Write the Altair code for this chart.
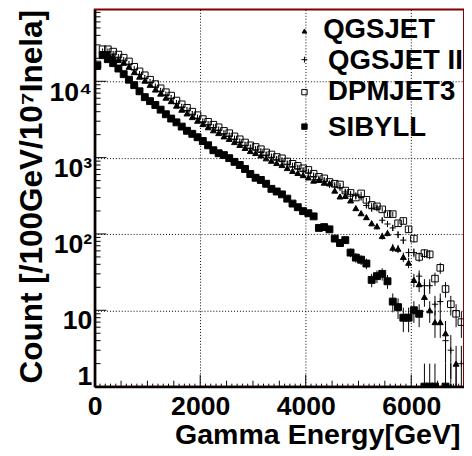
import altair as alt
import pandas as pd

# bin centres [GeV], 100 GeV bins
energy = [50 + 100 * i for i in range(70)]

names = ["QGSJET", "QGSJET II", "DPMJET3", "SIBYLL"]

qgsjet = [15500, 22500, 23000, 21000, 19000, 17500, 15500, 13200, 11500, 10200,
          9000, 7800, 6900, 6100, 5500, 4800, 4250, 3800, 3400, 3050,
          2750, 2500, 2280, 2100, 1900, 1760, 1600, 1470, 1340, 1220,
          1150, 1070, 980, 910, 850, 800, 730, 670, 630, 590,
          550, 500, 510, 470, 460, 370, 310, 315, 275, 218,
          187, 166, 138, 126, 94, 103, 66, 64, 50, 42,
          25, 22, 15, 10, 7, 7, 5, 1, 2, None]

qgsjet2 = [16000, 24500, 24500, 22800, 20700, 18900, 16800, 14300, 12400, 11000,
           9700, 8450, 7450, 6650, 6000, 5150, 4600, 4150, 3700, 3300,
           2950, 2700, 2480, 2300, 2060, 1920, 1750, 1600, 1450, 1330,
           1270, 1190, 1080, 1010, 940, 900, 820, 760, 715, 665,
           630, 565, 515, 490, 440, 415, 400, 355, 330, 320,
           300, 236, 214, 218, 151, 135, 120, 98, 83, 57,
           57, 28, 21, 21, 12, 13, 4, 3, 1, 2]

dpmjet3 = [16600, 26300, 26300, 24500, 22400, 20400, 18200, 15500, 13500, 12000,
           10500, 9200, 8100, 7200, 6500, 5600, 5000, 4500, 4000, 3600,
           3200, 2950, 2700, 2500, 2240, 2090, 1900, 1740, 1580, 1450,
           1380, 1290, 1170, 1100, 1020, 980, 890, 830, 780, 725,
           690, 615, 560, 535, 480, 455, 445, 370, 345, 300,
           340, 280, 240, 230, 210, 182, 182, 138, 148, 115,
           87, 50, 56, 54, 26, 36, 19, 12, 9, 7]

sibyll = [16000, 22000, 19500, 17300, 14700, 12400, 10500, 8900, 7400, 6200,
          5500, 4900, 4250, 3700, 3250, 2900, 2550, 2250, 2050, 1850,
          1650, 1450, 1250, 1140, 1080, 985, 880, 800, 710, 610,
          545, 510, 455, 390, 360, 330, 290, 250, 224, 199,
          187, 170, 120, 123, 115, 87, 76, 83, 57, 49,
          46, 41, 25, 28, 30, 24, 13, 11, 8, 8,
          10, 9, 1, 1, 1, None, 1, None, None, None]

x_ticks = [0, 2000, 4000, 6000]
y_ticks = [1, 10, 100, 1000, 10000]

rows = []
for name, vals in zip(names, [qgsjet, qgsjet2, dpmjet3, sibyll]):
    for e, v in zip(energy, vals):
        if v is None:
            continue
        err = v ** 0.5
        rows.append(dict(series=name, E=e, N=v, lo=max(v - err, 0.3), hi=v + err))
df = pd.DataFrame(rows)

W, H = 375, 383
FONT = "Liberation Sans"
xs = alt.Scale(domain=[0, 7000], nice=False, zero=False)
ys = alt.Scale(type="log", domain=[1, 87500], nice=False)

x_axis = alt.Axis(
    values=x_ticks, title="Gamma Energy[GeV]", format="d",
    grid=True, gridColor="black", gridDash=[1, 2], gridOpacity=1, gridWidth=1,
    ticks=False, labelPadding=7,
    labelFont=FONT, labelFontSize=27, labelFontWeight="bold", labelColor="black",
    labelFlush=False, labelOverlap=False,
    domainColor="black", domainWidth=2.5,
    titleFont=FONT, titleFontSize=29, titleFontWeight="bold", titleColor="black",
    titleAlign="right", titleBaseline="alphabetic",
    titleX=371, titleY=58)

y_axis = alt.Axis(
    values=y_ticks, title="Count [/100GeV/10\u2077Inela]",
    labelExpr="datum.value == 1 ? '1' : datum.value == 10 ? '10' : datum.value == 100 ? '10\u00b2' : datum.value == 1000 ? '10\u00b3' : '10\u2074'",
    labelBaseline={"condition": {"test": "datum.value == 1", "value": "alphabetic"}, "value": "top"},
    labelOffset=-2,
    grid=True, gridColor="black", gridDash=[1, 2], gridOpacity=1, gridWidth=1,
    ticks=False, labelPadding=3,
    labelFont=FONT, labelFontSize=27, labelFontWeight="bold", labelColor="black",
    labelFlush=False, labelOverlap=False,
    domainColor="black", domainWidth=2.5,
    titleFont=FONT, titleFontSize=32, titleFontWeight="bold", titleColor="black",
    titleAngle=270, titleAlign="right", titleBaseline="alphabetic",
    titleX=-54, titleY=0)

plus_path = "M-1,0L1,0M0,-1L0,1"
shape_range = ["triangle-up", plus_path, "square", "square"]
fill_range = ["black", "transparent", "transparent", "black"]
size_range = [36, 49, 42, 30]

errbars = alt.Chart(df).mark_rule(clip=True, color="black", strokeWidth=1).encode(
    x=alt.X("E:Q", scale=xs, axis=x_axis),
    y=alt.Y("lo:Q", scale=ys, axis=y_axis),
    y2="hi:Q",
)

points = alt.Chart(df).mark_point(filled=True, clip=True, stroke="black", strokeWidth=1, opacity=1).encode(
    x=alt.X("E:Q", scale=xs, axis=x_axis),
    y=alt.Y("N:Q", scale=ys, axis=y_axis),
    shape=alt.Shape("series:N", scale=alt.Scale(domain=names, range=shape_range), legend=None),
    fill=alt.Fill("series:N", scale=alt.Scale(domain=names, range=fill_range), legend=None),
    size=alt.Size("series:N", scale=alt.Scale(domain=names, range=size_range), legend=None),
)

# inward ticks
xt_major = pd.DataFrame({"E": [2000, 4000, 6000]})
xt_mid = pd.DataFrame({"E": [v for v in range(500, 7000, 500) if v % 2000 != 0]})
xt_minor = pd.DataFrame({"E": [v for v in range(100, 7000, 100) if v % 500 != 0]})
yt_major = pd.DataFrame({"N": [10, 100, 1000, 10000]})
yt_minor = pd.DataFrame({"N": [k * 10 ** d for d in range(5) for k in range(2, 10) if k * 10 ** d < 87500]})


def xtick(data, length):
    return alt.Chart(data).mark_rule(color="black", strokeWidth=1).encode(
        x=alt.X("E:Q", scale=xs, axis=x_axis), y=alt.value(H), y2=alt.value(H - length))


def ytick(data, length):
    return alt.Chart(data).mark_rule(color="black", strokeWidth=1).encode(
        y=alt.Y("N:Q", scale=ys, axis=y_axis), x=alt.value(0), x2=alt.value(length))


# legend (drawn as marks inside the frame)
leg_sym_x = 213
leg_txt_x = [232, 237, 237, 237]
leg_sym_y = [22, 51, 84, 119]
leg_txt_y = [29, 61, 92, 129]
leg_sizes = [22, 36, 30, 30]
legend_layers = []
for i, name in enumerate(names):
    d = pd.DataFrame({"series": [name]})
    legend_layers.append(
        alt.Chart(d).mark_point(shape=shape_range[i], filled=True, fill=fill_range[i],
                                stroke="black", strokeWidth=1, size=leg_sizes[i], opacity=1).encode(
            x=alt.value(leg_sym_x), y=alt.value(leg_sym_y[i]))
    )
    legend_layers.append(
        alt.Chart(d).mark_text(align="left", baseline="alphabetic", font=FONT, fontSize=28,
                               fontWeight="bold", color="black").encode(
            x=alt.value(leg_txt_x[i]), y=alt.value(leg_txt_y[i]), text="series:N")
    )

chart = alt.layer(
    xtick(xt_major, 12), xtick(xt_mid, 6), xtick(xt_minor, 3),
    ytick(yt_major, 12), ytick(yt_minor, 6),
    errbars, points, *legend_layers,
).properties(
    width=W, height=H,
    autosize=alt.AutoSizeParams(type="none"),
    padding={"left": 88, "top": -2, "right": 0, "bottom": 65},
    background="white",
).configure_view(stroke="#800000", strokeWidth=2)

chart.save("out.html", embed_options={"renderer": "svg", "actions": False})
